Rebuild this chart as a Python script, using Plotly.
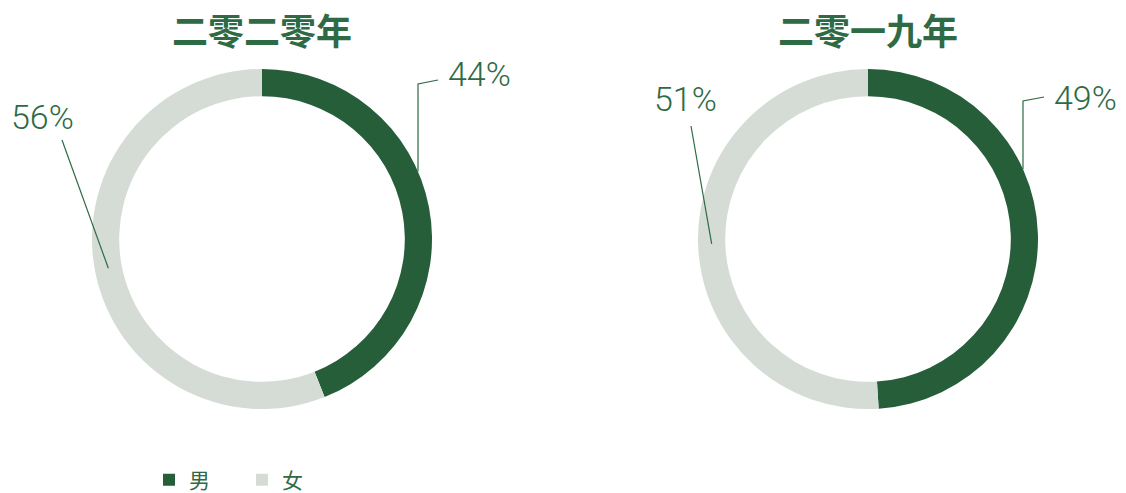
import math
import plotly.graph_objects as go

# ---- data ----
categories = ["男", "女"]
titles = ["二零二零年", "二零一九年"]
values_2020 = [44, 56]
values_2019 = [49, 51]

# ---- style / layout constants ----
W, H = 1126, 493
GREEN = "#265E3A"
GREY = "#D5DCD5"
TEXT = "#2E6B44"
HOLE = 0.84
R_OUT = 170
R_DOMAIN = 170
CENTERS = [(262, 239), (868, 239)]
# label placement per chart: (label centre, line start, elbow) per slice
LABEL_POS = [
    [((480, 74), (438, 80), (418, 84)), ((42, 117), (62, 140), None)],
    [((1085, 98), (1044, 97), (1023, 101)), ((685, 99), (691, 126), None)],
]


def px(x):
    return x / W


def py(y):
    return 1 - y / H


fig = go.Figure()
shapes = []
annotations = []

for i, (vals, title) in enumerate([(values_2020, titles[0]), (values_2019, titles[1])]):
    cx, cy = CENTERS[i]
    leg = "legend" if i == 0 else "legend2"
    fig.add_trace(go.Pie(
        labels=categories,
        values=vals,
        hole=HOLE,
        sort=False,
        direction="clockwise",
        rotation=0,
        textinfo="none",
        hoverinfo="label+percent",
        marker=dict(colors=[GREEN, GREY], line=dict(width=0)),
        domain=dict(x=[px(cx - R_DOMAIN), px(cx + R_DOMAIN)],
                    y=[py(cy + R_DOMAIN), py(cy - R_DOMAIN)]),
        legend=leg,
        showlegend=True,
    ))
    annotations.append(dict(
        x=px(cx), y=py(29), xref="paper", yref="paper", text=title, showarrow=False,
        font=dict(family="Noto Sans CJK SC", size=36, color=TEXT, weight="bold"),
        xanchor="center", yanchor="middle",
    ))
    total = sum(vals)
    start = 0.0
    for j, v in enumerate(vals):
        frac = v / total
        mid = (start + frac / 2) * 2 * math.pi
        start += frac
        (lx, ly), (sx, sy), elbow = LABEL_POS[i][j]
        annotations.append(dict(
            x=px(lx), y=py(ly), xref="paper", yref="paper", text=f"{round(frac * 100)}%",
            showarrow=False, xanchor="center", yanchor="middle",
            font=dict(family="Roboto", size=34, color=TEXT, weight=300),
        ))
        if elbow is not None:
            ex, ey = elbow
            dx = ex - cx
            ty = cy - math.sqrt(max(R_OUT ** 2 - dx ** 2, 0))
            path = f"M{px(sx)},{py(sy)} L{px(ex)},{py(ey)} L{px(ex)},{py(ty)}"
        else:
            rm = R_OUT * (1 + HOLE) / 2
            tx = cx + rm * math.sin(mid)
            ty = cy - rm * math.cos(mid)
            path = f"M{px(sx)},{py(sy)} L{px(tx)},{py(ty)}"
        shapes.append(dict(type="path", path=path, xref="paper", yref="paper",
                           line=dict(color=TEXT, width=1.2)))

legend_common = dict(
    orientation="h", yanchor="middle", xanchor="left",
    font=dict(family="Noto Sans CJK SC", size=21, color=TEXT),
    bgcolor="rgba(0,0,0,0)", entrywidth=48, entrywidthmode="pixels",
    itemclick=False, itemdoubleclick=False,
)

fig.update_layout(
    width=W, height=H,
    margin=dict(l=0, r=0, t=0, b=0, autoexpand=False),
    paper_bgcolor="white", plot_bgcolor="white",
    shapes=shapes,
    annotations=annotations,
    legend=dict(x=px(149), y=py(480), **legend_common),
    legend2=dict(x=px(755), y=py(480), **legend_common),
)

fig.write_html("out.html")
